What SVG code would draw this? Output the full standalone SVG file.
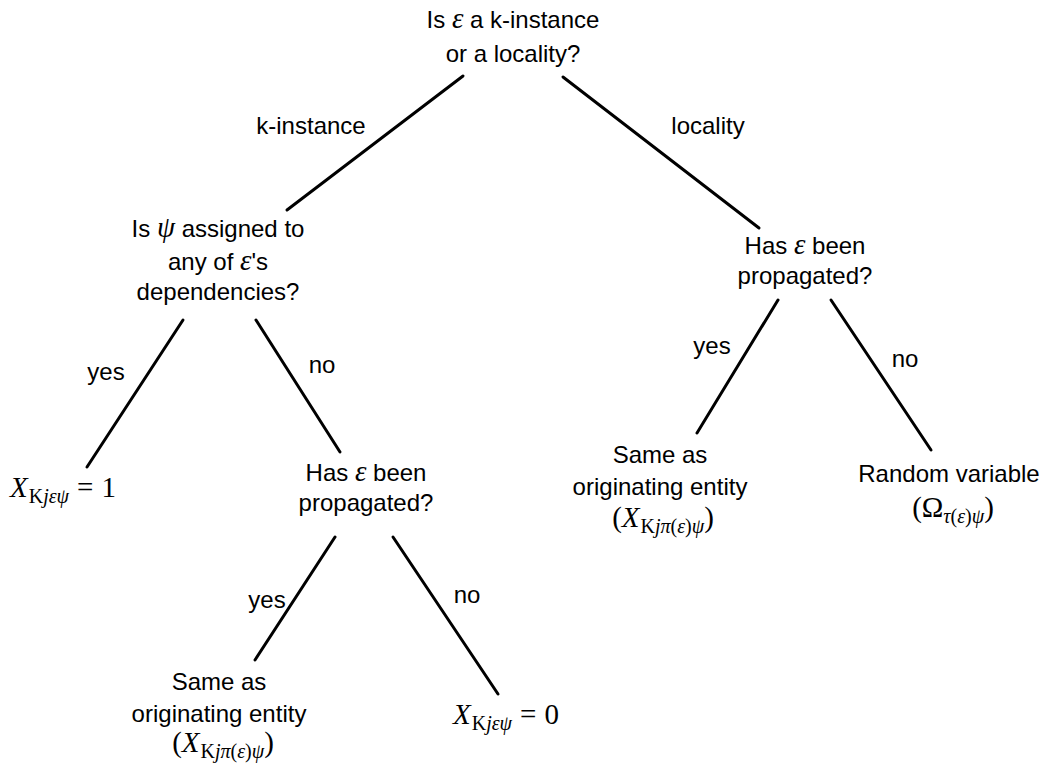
<svg xmlns="http://www.w3.org/2000/svg" width="1049" height="765" viewBox="0 0 1049 765">
<style>
text{font-family:"Liberation Sans","DejaVu Sans",sans-serif;font-size:24px;fill:#000;text-anchor:middle}
text.st{text-anchor:start}
.m{font-family:"Liberation Serif","DejaVu Serif",serif;font-style:italic;font-size:29px}
.r{font-family:"Liberation Serif","DejaVu Serif",serif;font-style:normal;font-size:29px}
.s{font-size:20px}
line{stroke:#000;stroke-width:3;stroke-linecap:round}
</style>
<rect width="1049" height="765" fill="#fff"/>
<g id="connectors">
<line x1="463" y1="76" x2="287" y2="210"/>
<line x1="563" y1="77" x2="759" y2="228"/>
<line x1="183" y1="320" x2="87" y2="467"/>
<line x1="256" y1="320" x2="340" y2="452"/>
<line x1="335" y1="537" x2="255" y2="660"/>
<line x1="393" y1="537" x2="498" y2="694"/>
<line x1="778" y1="300" x2="697" y2="433"/>
<line x1="831" y1="300" x2="931" y2="450"/>
<text x="311" y="134">k-instance</text>
<text x="708" y="134">locality</text>
<text x="106" y="380">yes</text>
<text x="322" y="373">no</text>
<text x="267" y="608">yes</text>
<text x="467" y="603">no</text>
<text x="712" y="354">yes</text>
<text x="905" y="367">no</text>
</g>
<g id="root">
<text x="513" y="28">Is <tspan class="m" font-size="24">ε</tspan> a k-instance</text>
<text x="513" y="62">or a locality?</text>
</g>
<g id="q-psi">
<text x="218" y="237">Is <tspan class="m" font-size="24">ψ</tspan> assigned to</text>
<text x="218" y="270">any of <tspan class="m" font-size="24">ε</tspan>'s</text>
<text x="218" y="300">dependencies?</text>
</g>
<g id="leaf-one">
<text x="10" y="497" class="r st"><tspan class="m">X</tspan><tspan class="s" dx="1" dy="6">K</tspan><tspan class="s m">jεψ</tspan><tspan dx="8" dy="-6">=</tspan><tspan dx="8">1</tspan></text>
</g>
<g id="q-prop-left">
<text x="366" y="481">Has <tspan class="m" font-size="24">ε</tspan> been</text>
<text x="366" y="511">propagated?</text>
</g>
<g id="leaf-same-left">
<text x="219" y="690">Same as</text>
<text x="219" y="722">originating entity</text>
<text x="223" y="752" class="r">(<tspan class="m">X</tspan><tspan class="s" dx="1" dy="6">K</tspan><tspan class="s m">jπ</tspan><tspan class="s">(</tspan><tspan class="s m">ε</tspan><tspan class="s">)</tspan><tspan class="s m">ψ</tspan><tspan dy="-6">)</tspan></text>
</g>
<g id="leaf-zero">
<text x="453" y="724" class="r st"><tspan class="m">X</tspan><tspan class="s" dx="1" dy="6">K</tspan><tspan class="s m">jεψ</tspan><tspan dx="8" dy="-6">=</tspan><tspan dx="8">0</tspan></text>
</g>
<g id="q-prop-right">
<text x="805" y="254">Has <tspan class="m" font-size="24">ε</tspan> been</text>
<text x="805" y="284">propagated?</text>
</g>
<g id="leaf-same-right">
<text x="660" y="463">Same as</text>
<text x="660" y="495">originating entity</text>
<text x="663" y="527" class="r">(<tspan class="m">X</tspan><tspan class="s" dx="1" dy="6">K</tspan><tspan class="s m">jπ</tspan><tspan class="s">(</tspan><tspan class="s m">ε</tspan><tspan class="s">)</tspan><tspan class="s m">ψ</tspan><tspan dy="-6">)</tspan></text>
</g>
<g id="leaf-random">
<text x="949" y="482">Random variable</text>
<text x="953" y="517" class="r">(Ω<tspan class="s m" dy="6">τ</tspan><tspan class="s">(</tspan><tspan class="s m">ε</tspan><tspan class="s">)</tspan><tspan class="s m">ψ</tspan><tspan dy="-6">)</tspan></text>
</g>
</svg>
